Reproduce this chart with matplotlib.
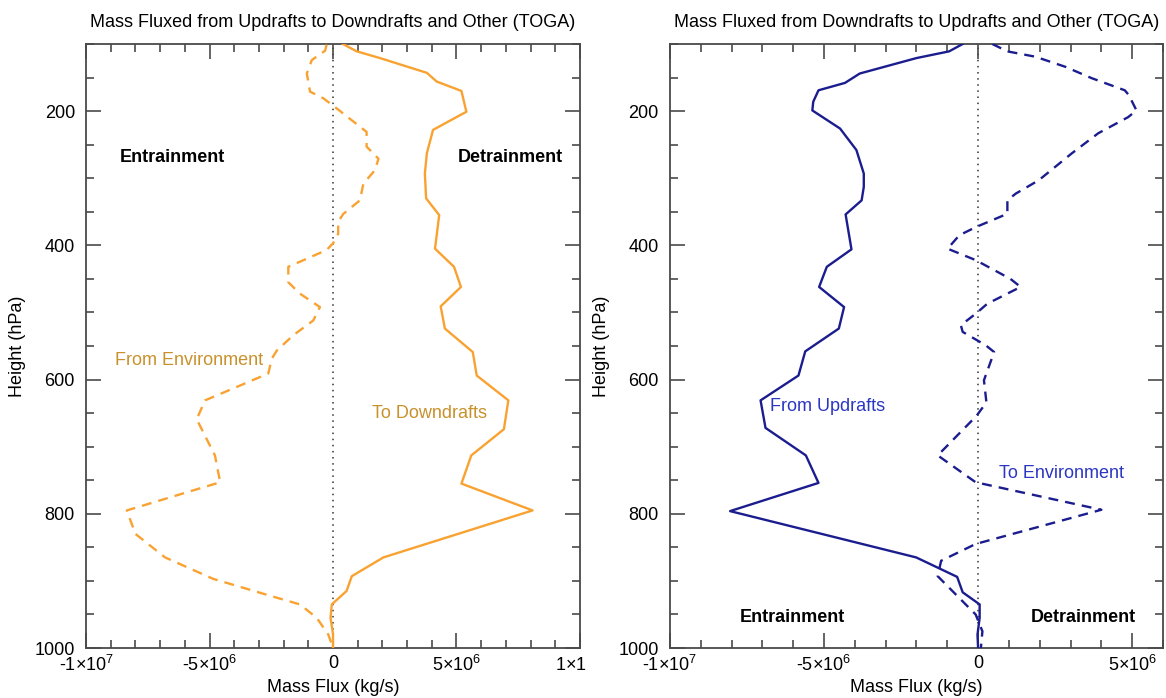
import matplotlib
matplotlib.use("Agg")
import matplotlib.pyplot as plt
from matplotlib.ticker import FixedLocator, MultipleLocator, FuncFormatter
from matplotlib.transforms import Bbox, TransformedBbox

plt.rcParams["font.family"] = ["Liberation Sans", "DejaVu Sans"]
plt.rcParams["font.size"] = 13

### Daten: Druck (hPa) und Massenfluss (10^6 kg/s)
# Abwinde (TOGA), Detrainment zu Abwinden
p_to_down = [100, 111, 121, 143, 156, 170, 201, 228, 263, 293, 330, 355, 405, 432,
             462, 491, 524, 559, 594, 631, 674, 713, 755, 795, 865, 893, 915, 935,
             955, 979, 1000]
f_to_down = [0.4, 0.96, 1.9, 3.8, 4.2, 5.2, 5.4, 4.05, 3.8, 3.72, 3.77, 4.3, 4.13, 4.9,
             5.18, 4.36, 4.53, 5.66, 5.82, 7.1, 6.92, 5.6, 5.2, 8.08, 2.04, 0.76, 0.55,
             -0.05, -0.1, 0.0, 0.0]

# Entrainment aus der Umgebung
p_from_env = [101, 110, 124, 144, 171, 181, 196, 231, 253, 271, 288, 308, 333, 353,
              365, 383, 397, 407, 432, 455, 472, 492, 512, 534, 557, 569, 591, 631,
              659, 684, 713, 753, 795, 830, 865, 897, 925, 935, 955, 980, 1000]
f_from_env = [-0.26, -0.32, -0.86, -1.06, -0.93, -0.39, 0.15, 1.36, 1.36, 1.84, 1.7,
              1.23, 1.09, 0.42, 0.21, 0.21, 0.0, -0.26, -1.81, -1.81, -1.34, -0.53,
              -0.8, -1.61, -2.28, -2.48, -2.62, -5.18, -5.52, -5.18, -4.78, -4.57,
              -8.35, -8.0, -6.8, -4.85, -2.28, -1.34, -0.66, -0.19, 0.0]

# Aufwinde: Entrainment aus Aufwinden
p_from_up = [100, 111, 121, 144, 158, 169, 186, 199, 226, 258, 293, 313, 333, 354,
             406, 432, 462, 492, 524, 558, 594, 631, 672, 713, 754, 796, 865, 894,
             917, 935, 955, 980, 1000]
f_from_up = [-0.5, -0.94, -2.0, -3.84, -4.32, -5.18, -5.35, -5.38, -4.48, -3.95, -3.71,
             -3.71, -3.78, -4.3, -4.11, -4.91, -5.16, -4.35, -4.52, -5.61, -5.83, -7.06,
             -6.9, -5.59, -5.18, -8.05, -2.01, -0.68, -0.5, 0.05, 0.05, -0.02, 0.0]

# Detrainment in die Umgebung
p_to_env = [100, 111, 119, 134, 151, 169, 176, 199, 209, 233, 263, 303, 323, 333, 353,
            373, 385, 405, 422, 450, 462, 487, 502, 519, 529, 549, 559, 601, 634, 654,
            713, 753, 794, 845, 870, 893, 950, 975, 1000]
f_to_env = [0.46, 0.95, 1.86, 2.83, 3.69, 4.76, 4.89, 5.14, 4.87, 3.9, 3.04, 1.97, 1.22,
            0.95, 0.95, -0.08, -0.61, -0.99, -0.08, 1.05, 1.38, 0.3, -0.08, -0.56, -0.5,
            0.25, 0.52, 0.19, 0.27, -0.05, -1.31, -0.08, 4.0, -0.08, -1.2, -1.31, -0.08,
            0.14, 0.09]

titel_links = "Mass Fluxed from Updrafts to Downdrafts and Other (TOGA)"
titel_rechts = "Mass Fluxed from Downdrafts to Updrafts and Other (TOGA)"

orange = "#f9a231"
orange_text = "#c8912c"
blau = "#1b1d8e"
blau_text = "#2b36c2"
grau = "#4a4a4a"


def mio(werte):
    return [w * 1e6 for w in werte]


def fluss_label(x, pos):
    if abs(x) < 1:
        return "0"
    exp = 7 if abs(x) >= 1e7 else 6
    mant = int(round(x / 10 ** exp))
    # Bindestrich statt Minuszeichen, Exponent hochgestellt
    return "%d×" % mant + r"$\mathdefault{10^{%d}}$" % exp


def achse_einrichten(ax, xmin, xmax, titel):
    ax.set_xlim(xmin, xmax)
    ax.set_ylim(1000, 100)
    ax.xaxis.set_major_locator(MultipleLocator(5e6))
    ax.xaxis.set_minor_locator(MultipleLocator(1e6))
    ax.xaxis.set_major_formatter(FuncFormatter(fluss_label))
    ax.yaxis.set_major_locator(FixedLocator([200, 400, 600, 800, 1000]))
    ax.yaxis.set_minor_locator(MultipleLocator(50))
    ax.tick_params(which="both", direction="in", top=True, right=True, color=grau,
                   width=1.2, labelsize=13)
    ax.tick_params(which="major", length=11)
    ax.tick_params(which="minor", length=6)
    ax.tick_params(axis="x", pad=5)
    ax.tick_params(axis="y", pad=8)
    for s in ax.spines.values():
        s.set_color(grau)
        s.set_linewidth(1.3)
    ax.axvline(0, color="#333333", lw=1.1, dashes=(1, 3.0), zorder=1)
    ax.set_xlabel("Mass Flux (kg/s)", fontsize=13, labelpad=3)
    ax.set_ylabel("Height (hPa)", fontsize=13, labelpad=6)
    ax.set_title(titel, fontsize=13, pad=12)


fig = plt.figure(figsize=(11.66, 6.98), dpi=100)
ax1 = fig.add_axes([0.0738, 0.0716, 0.4236, 0.8654])
ax2 = fig.add_axes([0.5746, 0.0716, 0.4228, 0.8654])

#### linkes Panel
achse_einrichten(ax1, -1e7, 1e7, titel_links)
ax1.plot(mio(f_to_down), p_to_down, color=orange, lw=1.7, zorder=3)
ax1.plot(mio(f_from_env), p_from_env, color=orange, lw=1.7, dashes=(4.2, 3.0), zorder=3)
ax1.text(-8.62e6, 269, "Entrainment", fontsize=13, fontweight="bold", va="center")
ax1.text(5.06e6, 269, "Detrainment", fontsize=13, fontweight="bold", va="center")
ax1.text(-8.83e6, 572, "From Environment", fontsize=13, color=orange_text, va="center")
ax1.text(1.58e6, 651, "To Downdrafts", fontsize=13, color=orange_text, va="center")

#### rechtes Panel
achse_einrichten(ax2, -1e7, 6e6, titel_rechts)
ax2.plot(mio(f_from_up), p_from_up, color=blau, lw=1.7, zorder=3)
ax2.plot(mio(f_to_env), p_to_env, color=blau, lw=1.7, dashes=(4.2, 3.0), zorder=3)
ax2.text(-6.74e6, 640, "From Updrafts", fontsize=13, color=blau_text, va="center")
ax2.text(0.68e6, 740, "To Environment", fontsize=13, color=blau_text, va="center")
ax2.text(-7.74e6, 954, "Entrainment", fontsize=13, fontweight="bold", va="center")
ax2.text(1.71e6, 954, "Detrainment", fontsize=13, fontweight="bold", va="center")

# linke x-Beschriftung endet am Rand des linken Bildteils
clip = TransformedBbox(Bbox([[0, 0], [586 / 1166, 1]]), fig.transFigure)
for lab in ax1.get_xticklabels():
    lab.set_clip_box(clip)
    lab.set_clip_on(True)

fig.savefig("out.png", dpi=100)
